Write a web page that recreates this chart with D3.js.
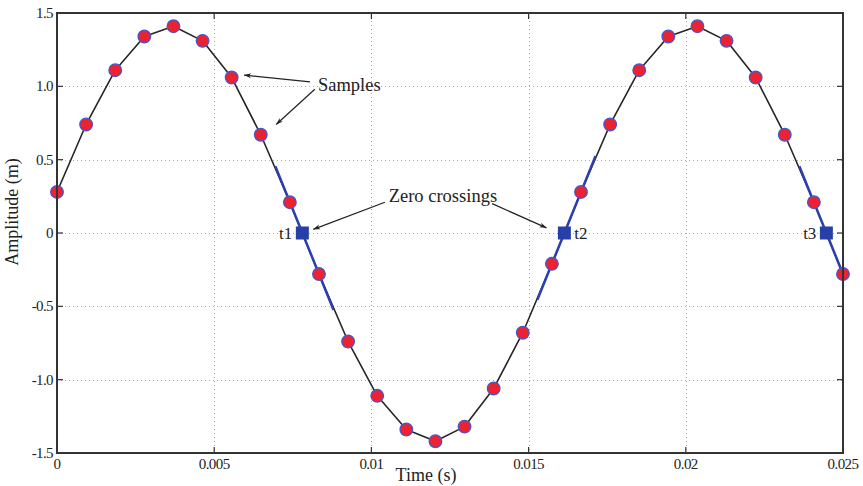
<!DOCTYPE html>
<html>
<head>
<meta charset="utf-8">
<script src="https://cdn.jsdelivr.net/npm/d3@7"></script>
<style>
  body { margin: 0; background: #fff; }
  text { font-family: "Liberation Serif", "DejaVu Serif", serif; fill: #222; }
</style>
</head>
<body>
<svg id="chart"></svg>
<script>
// sample times (s) and amplitudes (m)
const sampleTimes = [0, 0.000926, 0.001852, 0.002778, 0.003704, 0.00463, 0.005556, 0.006481, 0.007407,
  0.008333, 0.009259, 0.010185, 0.011111, 0.012037, 0.012963, 0.013889, 0.014815, 0.015741, 0.016667,
  0.017593, 0.018519, 0.019444, 0.02037, 0.021296, 0.022222, 0.023148, 0.024074, 0.025];
const sampleValues = [0.28, 0.74, 1.11, 1.34, 1.41, 1.31, 1.06, 0.67, 0.21,
  -0.28, -0.74, -1.11, -1.34, -1.42, -1.32, -1.06, -0.68, -0.21, 0.28,
  0.74, 1.11, 1.34, 1.41, 1.31, 1.06, 0.67, 0.21, -0.28];
// index of the sample just before each zero crossing
const crossingIdx = [8, 17, 26];
const crossingLabels = ["t1", "t2", "t3"];
const crossingLabelSide = ["left", "right", "left"];
const xTicks = [0, 0.005, 0.01, 0.015, 0.02, 0.025];
const xTickLabels = ["0", "0.005", "0.01", "0.015", "0.02", "0.025"];
const yTicks = [-1.5, -1, -0.5, 0, 0.5, 1, 1.5];
const yTickLabels = ["-1.5", "-1.0", "-0.5", "0", "0.5", "1.0", "1.5"];

const width = 863, height = 486;
const margin = { top: 13, right: 20, bottom: 33, left: 57 };

const svg = d3.select("#chart")
  .attr("width", width)
  .attr("height", height);

const x = d3.scaleLinear().domain([0, 0.025]).range([margin.left, width - margin.right]);
const y = d3.scaleLinear().domain([-1.5, 1.5]).range([height - margin.bottom, margin.top]);

svg.append("defs").append("clipPath").attr("id", "clip")
  .append("rect")
  .attr("x", x(0)).attr("y", y(1.5))
  .attr("width", x(0.025) - x(0)).attr("height", y(-1.5) - y(1.5));

svg.append("defs").append("marker")
  .attr("id", "arrow")
  .attr("viewBox", "0 0 10 10")
  .attr("refX", 10).attr("refY", 5)
  .attr("markerWidth", 10).attr("markerHeight", 7)
  .attr("markerUnits", "userSpaceOnUse")
  .attr("orient", "auto")
  .append("path")
  .attr("d", "M0,1.5 L10,5 L0,8.5 L3,5 Z")
  .attr("fill", "#222");

// grid
const grid = svg.append("g").attr("stroke", "#aaa").attr("stroke-width", 1).attr("stroke-dasharray", "1,3");
grid.selectAll(".gx").data(xTicks.slice(1, -1)).enter().append("line")
  .attr("x1", d => Math.round(x(d)) + 0.5).attr("x2", d => Math.round(x(d)) + 0.5)
  .attr("y1", y(1.5)).attr("y2", y(-1.5));
grid.selectAll(".gy").data(yTicks.slice(1, -1)).enter().append("line")
  .attr("y1", d => Math.round(y(d)) + 0.5).attr("y2", d => Math.round(y(d)) + 0.5)
  .attr("x1", x(0)).attr("x2", x(0.025));

// ticks on all sides, pointing inward
const tickLen = 6;
const ticks = svg.append("g").attr("stroke", "#333").attr("stroke-width", 1.2);
xTicks.forEach(t => {
  ticks.append("line").attr("x1", x(t)).attr("x2", x(t)).attr("y1", y(-1.5)).attr("y2", y(-1.5) - tickLen);
  ticks.append("line").attr("x1", x(t)).attr("x2", x(t)).attr("y1", y(1.5)).attr("y2", y(1.5) + tickLen);
});
yTicks.forEach(v => {
  ticks.append("line").attr("y1", y(v)).attr("y2", y(v)).attr("x1", x(0)).attr("x2", x(0) + tickLen);
  ticks.append("line").attr("y1", y(v)).attr("y2", y(v)).attr("x1", x(0.025)).attr("x2", x(0.025) - tickLen);
});

// tick labels
svg.append("g").selectAll("text").data(xTicks).enter().append("text")
  .attr("x", d => x(d)).attr("y", y(-1.5) + 16)
  .attr("text-anchor", "middle")
  .attr("font-size", 15).attr("letter-spacing", -0.6)
  .text((d, i) => xTickLabels[i]);
svg.append("g").selectAll("text").data(yTicks).enter().append("text")
  .attr("x", x(0) - 4).attr("y", d => y(d) + 5)
  .attr("text-anchor", "end")
  .attr("font-size", 15).attr("letter-spacing", -0.6)
  .text((d, i) => yTickLabels[i]);

// axis titles
svg.append("text")
  .attr("x", 426).attr("y", 481)
  .attr("text-anchor", "middle").attr("font-size", 18)
  .text("Time (s)");
svg.append("text")
  .attr("transform", "translate(18,212) rotate(-90)")
  .attr("text-anchor", "middle").attr("font-size", 18)
  .text("Amplitude (m)");

const samples = sampleTimes.map((t, i) => ({ t: t, v: sampleValues[i] }));
const plot = svg.append("g").attr("clip-path", "url(#clip)");

// signal joining the samples
plot.append("path")
  .datum(samples)
  .attr("fill", "none")
  .attr("stroke", "#262626")
  .attr("stroke-width", 1.6)
  .attr("stroke-linejoin", "round")
  .attr("d", d3.line().x(d => x(d.t)).y(d => y(d.v)));

// zero crossings: straight line through the two bracketing samples, extended half a step
const crossings = crossingIdx.map((k, i) => {
  const a = samples[k], b = samples[k + 1];
  const slope = (b.v - a.v) / (b.t - a.t);
  const tz = a.t - a.v / slope;
  const dt = b.t - a.t;
  return {
    t: tz, label: crossingLabels[i], side: crossingLabelSide[i],
    t0: a.t - dt / 2, v0: a.v - slope * dt / 2,
    t1: b.t + dt / 2, v1: b.v + slope * dt / 2
  };
});

plot.selectAll(".fit").data(crossings).enter().append("line")
  .attr("x1", d => x(d.t0)).attr("y1", d => y(d.v0))
  .attr("x2", d => x(d.t1)).attr("y2", d => y(d.v1))
  .attr("stroke", "#2b3fb0")
  .attr("stroke-width", 2.5);

// sample markers
svg.append("g").selectAll("circle").data(samples).enter().append("circle")
  .attr("cx", d => x(d.t)).attr("cy", d => y(d.v))
  .attr("r", 6.3)
  .attr("fill", "#ec2230")
  .attr("stroke", "#4a55c8")
  .attr("stroke-width", 1.3);

// crossing squares
svg.append("g").selectAll("rect").data(crossings).enter().append("rect")
  .attr("x", d => x(d.t) - 6.5).attr("y", y(0) - 6.5)
  .attr("width", 13).attr("height", 13)
  .attr("fill", "#2740a8");

svg.append("g").selectAll("text").data(crossings).enter().append("text")
  .attr("x", d => d.side === "left" ? x(d.t) - 10 : x(d.t) + 10)
  .attr("y", y(0) + 6)
  .attr("text-anchor", d => d.side === "left" ? "end" : "start")
  .attr("font-size", 17)
  .text(d => d.label);

// annotations
svg.append("text")
  .attr("x", x(0.0083)).attr("y", y(0.97))
  .attr("font-size", 18.5)
  .text("Samples");
svg.append("text")
  .attr("x", x(0.01055)).attr("y", y(0.21))
  .attr("font-size", 18.5)
  .text("Zero crossings");

const arrows = [
  [0.00805, 1.03, 0.00595, 1.077],
  [0.0082, 0.98, 0.00697, 0.74],
  [0.01043, 0.21, 0.00815, 0.025],
  [0.01384, 0.20, 0.01557, 0.035]
];
svg.append("g").selectAll("line").data(arrows).enter().append("line")
  .attr("x1", d => x(d[0])).attr("y1", d => y(d[1]))
  .attr("x2", d => x(d[2])).attr("y2", d => y(d[3]))
  .attr("stroke", "#222").attr("stroke-width", 1.2)
  .attr("marker-end", "url(#arrow)");

// frame
svg.append("rect")
  .attr("x", x(0)).attr("y", y(1.5))
  .attr("width", x(0.025) - x(0)).attr("height", y(-1.5) - y(1.5))
  .attr("fill", "none")
  .attr("stroke", "#333")
  .attr("stroke-width", 2);
</script>
</body>
</html>
